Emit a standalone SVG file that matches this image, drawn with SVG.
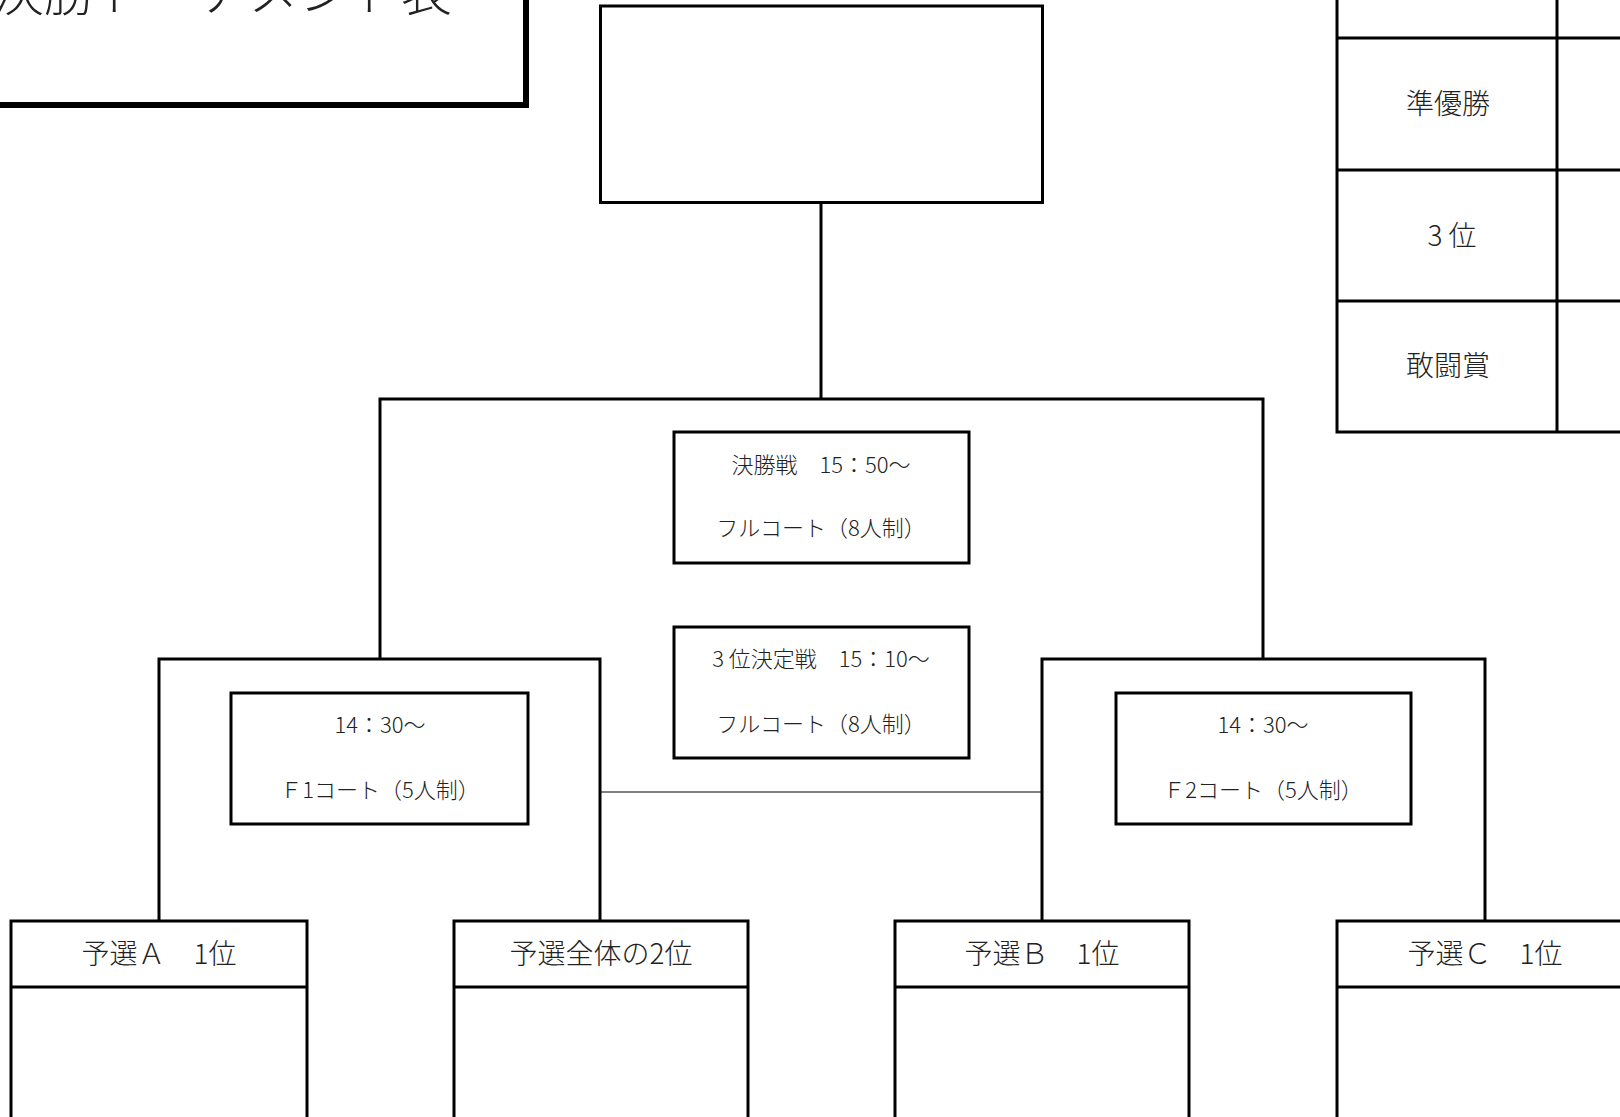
<svg xmlns="http://www.w3.org/2000/svg" width="1620" height="1117" viewBox="0 0 1620 1117">
<style>
.box{fill:#fff;stroke:#000;stroke-width:3}
.ln{fill:none;stroke:#000;stroke-width:3}
.thin{fill:none;stroke:#000;stroke-width:1.2}
text{font-family:"Noto Sans CJK JP","Noto Sans CJK SC",sans-serif;fill:#222;text-anchor:middle;font-weight:300}
.s{font-size:22px}
.m{font-size:28px}
</style>
<rect width="1620" height="1117" fill="#fff"/>
<g id="title">
<rect x="-10" y="-10" width="536" height="115" fill="#fff" stroke="#000" stroke-width="6"/>
<text x="-7" y="11" style="font-size:51px;text-anchor:start">決勝トーナメント表</text>
</g>
<g id="connectors">
<line class="ln" x1="821" y1="202" x2="821" y2="399"/>
<polyline class="ln" points="380,659 380,399 1263,399 1263,659"/>
<polyline class="ln" points="159,921 159,659 600,659 600,921"/>
<polyline class="ln" points="1042,921 1042,659 1485,659 1485,921"/>
<line class="thin" x1="600" y1="792" x2="1042" y2="792"/>
</g>
<g id="champion-box">
<rect class="box" x="600.5" y="6" width="442" height="196.5"/>
</g>
<g id="results-table">
<rect class="box" x="1337" y="-10" width="300" height="442"/>
<line class="ln" x1="1557" y1="-10" x2="1557" y2="432"/>
<line class="ln" x1="1337" y1="38" x2="1630" y2="38"/>
<line class="ln" x1="1337" y1="170" x2="1630" y2="170"/>
<line class="ln" x1="1337" y1="301" x2="1630" y2="301"/>
<text class="m" x="1448" y="114">準優勝</text>
<text class="m" x="1452" y="246">3 位</text>
<text class="m" x="1448" y="376">敢闘賞</text>
</g>
<g id="match-final">
<rect class="box" x="674" y="432" width="295" height="131"/>
<text class="s" x="821" y="473">決勝戦　15：50～</text>
<text class="s" x="821" y="536">フルコート（8人制）</text>
</g>
<g id="match-third">
<rect class="box" x="674" y="627" width="295" height="131"/>
<text class="s" x="821" y="667">3 位決定戦　15：10～</text>
<text class="s" x="821" y="732">フルコート（8人制）</text>
</g>
<g id="match-f1">
<rect class="box" x="231" y="693" width="297" height="131"/>
<text class="s" x="380" y="733">14：30～</text>
<text class="s" x="380" y="798">Ｆ1コート（5人制）</text>
</g>
<g id="match-f2">
<rect class="box" x="1116" y="693" width="295" height="131"/>
<text class="s" x="1263" y="733">14：30～</text>
<text class="s" x="1263" y="798">Ｆ2コート（5人制）</text>
</g>
<g id="seed-a">
<rect class="box" x="11" y="921" width="296" height="220"/>
<line class="ln" x1="11" y1="987" x2="307" y2="987"/>
<text class="m" x="159" y="964">予選Ａ　1位</text>
</g>
<g id="seed-2nd">
<rect class="box" x="454" y="921" width="294" height="220"/>
<line class="ln" x1="454" y1="987" x2="748" y2="987"/>
<text class="m" x="601" y="964">予選全体の2位</text>
</g>
<g id="seed-b">
<rect class="box" x="895" y="921" width="294" height="220"/>
<line class="ln" x1="895" y1="987" x2="1189" y2="987"/>
<text class="m" x="1042" y="964">予選Ｂ　1位</text>
</g>
<g id="seed-c">
<rect class="box" x="1337" y="921" width="296" height="220"/>
<line class="ln" x1="1337" y1="987" x2="1633" y2="987"/>
<text class="m" x="1485" y="964">予選Ｃ　1位</text>
</g>
</svg>
